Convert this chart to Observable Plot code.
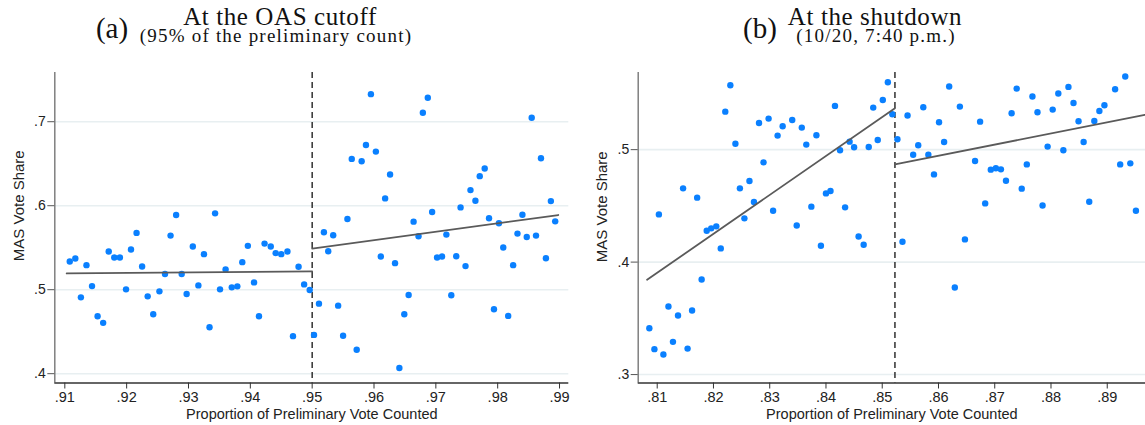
<!DOCTYPE html>
<html>
<head>
<meta charset="utf-8">
<script src="https://cdn.jsdelivr.net/npm/d3@7"></script>
<script src="https://cdn.jsdelivr.net/npm/@observablehq/plot@0.6"></script>
<style>
  html, body { margin: 0; padding: 0; background: white; }
  #root { position: relative; width: 1145px; height: 425px; overflow: hidden; background: white; }
  .panel { position: absolute; top: 60px; }
  .ttl { position: absolute; font-family: "Liberation Serif", "DejaVu Serif", serif; color: #111; white-space: nowrap; transform: translateX(-50%); line-height: 0.8; }
</style>
</head>
<body>
<div id="root"></div>
<script>
// ---------- Panel (a): At the OAS cutoff ----------
const aX = [0.9108,0.9117,0.9126,0.9135,0.9144,0.9153,0.9162,0.9171,0.9180,0.9189,0.9199,0.9207,0.9216,0.9225,0.9234,0.9243,0.9253,0.9262,0.9271,0.9280,0.9289,0.9297,0.9307,0.9316,0.9325,0.9334,0.9343,0.9351,0.9360,0.9370,0.9379,0.9387,0.9396,0.9406,0.9414,0.9423,0.9433,0.9441,0.9450,0.9460,0.9469,0.9478,0.9487,0.9496,
  0.9503,0.9511,0.9519,0.9526,0.9534,0.9542,0.9550,0.9557,0.9564,0.9572,0.9580,0.9587,0.9595,0.9603,0.9611,0.9618,0.9626,0.9634,0.9641,0.9649,0.9656,0.9664,0.9672,0.9679,0.9687,0.9694,0.9702,0.9710,0.9717,0.9725,0.9733,0.9740,0.9748,0.9756,0.9764,0.9771,0.9779,0.9786,0.9794,0.9802,0.9809,0.9817,0.9825,0.9832,0.9840,0.9847,0.9855,0.9862,0.9870,0.9878,0.9886,0.9893];
const aY = [0.5336,0.5372,0.4909,0.5292,0.5043,0.4684,0.4605,0.5455,0.5383,0.5383,0.5004,0.5478,0.5676,0.5277,0.4921,0.4708,0.4980,0.5186,0.5644,0.5889,0.5186,0.4949,0.5514,0.5051,0.5423,0.4553,0.5909,0.5004,0.5241,0.5028,0.5040,0.5328,0.5522,0.5087,0.4684,0.5549,0.5514,0.5435,0.5423,0.5455,0.4447,0.5273,0.5063,0.4996,
  0.4462,0.4834,0.5684,0.5458,0.5648,0.4810,0.4451,0.5842,0.6557,0.4285,0.6530,0.6723,0.7328,0.6644,0.5395,0.6087,0.6372,0.5316,0.4067,0.4708,0.4937,0.5810,0.5636,0.7107,0.7285,0.5925,0.5383,0.5395,0.5656,0.4933,0.5399,0.5980,0.5281,0.6186,0.6059,0.6352,0.6443,0.5850,0.4767,0.5791,0.5502,0.4688,0.5292,0.5668,0.5893,0.5628,0.7047,0.5644,0.6565,0.5375,0.6055,0.5814];
const aFitLeftX = [0.9103, 0.95];
const aFitLeftY = [0.5194, 0.5217];
const aFitRightX = [0.95, 0.9898];
const aFitRightY = [0.5490, 0.5889];
const aCutoff = 0.95;
const aXTicks = [0.91,0.92,0.93,0.94,0.95,0.96,0.97,0.98,0.99];
const aYTicks = [0.4,0.5,0.6,0.7];
const aXDomain = [0.90838, 0.9915];
const aYDomain = [0.3889, 0.7586];

// ---------- Panel (b): At the shutdown ----------
const bX = [0.8086,0.8095,0.8103,0.8111,0.8120,0.8128,0.8137,0.8146,0.8154,0.8162,0.8171,0.8179,0.8188,0.8196,0.8205,0.8213,0.8221,0.8230,0.8239,0.8247,0.8255,0.8264,0.8272,0.8281,0.8289,0.8298,0.8306,0.8314,0.8323,0.8340,0.8348,0.8357,0.8365,0.8374,0.8383,0.8391,0.8400,0.8408,0.8416,0.8425,0.8434,0.8442,0.8450,0.8458,0.8467,0.8476,0.8484,0.8492,
  0.8501,0.8510,0.8518,0.8527,0.8536,0.8545,0.8555,0.8564,0.8573,0.8582,0.8592,0.8601,0.8610,0.8619,0.8629,0.8638,0.8647,0.8665,0.8674,0.8683,0.8693,0.8702,0.8711,0.8720,0.8730,0.8739,0.8748,0.8757,0.8767,0.8776,0.8785,0.8794,0.8803,0.8813,0.8822,0.8831,0.8840,0.8849,0.8858,0.8868,0.8877,0.8886,0.8895,0.8914,0.8923,0.8932,0.8941,0.8951];
const bY = [0.3412,0.3226,0.4424,0.3178,0.3605,0.3291,0.3525,0.4656,0.3231,0.3570,0.4573,0.3846,0.4279,0.4300,0.4318,0.4122,0.5338,0.5573,0.5053,0.4656,0.4389,0.4721,0.4534,0.5237,0.4887,0.5276,0.4457,0.5125,0.5208,0.5264,0.4326,0.5196,0.5045,0.4493,0.5128,0.4145,0.4611,0.4632,0.5389,0.4994,0.4487,0.5071,0.5021,0.4228,0.4154,0.5024,0.5374,0.5086,
  0.5442,0.5599,0.5315,0.5092,0.4181,0.5303,0.4955,0.5039,0.5377,0.4955,0.4780,0.5243,0.5068,0.5561,0.3774,0.5383,0.4202,0.4899,0.5249,0.4522,0.4822,0.4834,0.4825,0.4724,0.5323,0.5543,0.4653,0.4869,0.5472,0.5332,0.4504,0.5027,0.5356,0.5499,0.4994,0.5558,0.5415,0.5252,0.5068,0.4537,0.5255,0.5344,0.5395,0.5537,0.4869,0.5650,0.4878,0.4457];
const bFitLeftX = [0.8082, 0.85226];
const bFitLeftY = [0.3843, 0.5368];
const bFitRightX = [0.85226, 0.89667];
const bFitRightY = [0.4869, 0.5309];
const bCutoff = 0.85226;
const bXTicks = [0.81,0.82,0.83,0.84,0.85,0.86,0.87,0.88,0.89];
const bYTicks = [0.3,0.4,0.5];
const bXDomain = [0.80662, 0.8968];
const bYDomain = [0.2925, 0.5686];

const xLabel = "Proportion of Preliminary Vote Counted";
const yLabel = "MAS Vote Share";

const fmt2 = d => d3.format(".2f")(d).replace(/^0/, "");
const fmt1 = d => d3.format(".1f")(d).replace(/^0/, "");
const zip = (xs, ys) => xs.map((x, i) => ({x, y: ys[i]}));

function panel({X, Y, fitLX, fitLY, fitRX, fitRY, cutoff, xTicks, yTicks, xDomain, yDomain, width, marginLeft, marginRight, yLabelDy}) {
  return Plot.plot({
    width, height: 365,
    marginLeft, marginRight, marginTop: 12, marginBottom: 42.5,
    x: {domain: xDomain},
    y: {domain: yDomain},
    style: {fontFamily: "'Liberation Sans', Arial, sans-serif", fontSize: "14px", background: "white", color: "#222", overflow: "visible"},
    marks: [
      Plot.ruleY(yTicks, {stroke: "#e8eff1", strokeWidth: 1.6}),
      Plot.ruleX([cutoff], {stroke: "#222", strokeWidth: 1.4, strokeDasharray: "6,4"}),
      Plot.dot(zip(X, Y), {x: "x", y: "y", r: 3.2, fill: "#0a80ff", stroke: null}),
      Plot.line(zip(fitLX, fitLY), {x: "x", y: "y", stroke: "#5a5a5a", strokeWidth: 1.8}),
      Plot.line(zip(fitRX, fitRY), {x: "x", y: "y", stroke: "#5a5a5a", strokeWidth: 1.8}),
      Plot.ruleX([xDomain[0]], {stroke: "#777", strokeWidth: 1.4}),
      Plot.ruleY([yDomain[0]], {stroke: "#333", strokeWidth: 1.4}),
      Plot.axisY({ticks: yTicks, tickFormat: fmt1, tickSize: 7, tickPadding: 2, stroke: "#555", label: null}),
      Plot.axisX({ticks: xTicks, tickFormat: fmt2, tickSize: 6, tickPadding: 3, stroke: "#333",
        label: xLabel, labelAnchor: "center", labelOffset: 36, labelArrow: "none", fontSize: 14.5}),
      Plot.text([yLabel], {text: d => d, frameAnchor: "left", rotate: -90, dx: -36, dy: yLabelDy,
        fontSize: 15, textAnchor: "middle", fill: "#222"})
    ]
  });
}

const root = document.getElementById("root");

const pa = panel({X: aX, Y: aY, fitLX: aFitLeftX, fitLY: aFitLeftY, fitRX: aFitRightX, fitRY: aFitRightY,
  cutoff: aCutoff, xTicks: aXTicks, yTicks: aYTicks, xDomain: aXDomain, yDomain: aYDomain,
  width: 572, marginLeft: 54.3, marginRight: 3.7, yLabelDy: -22});
pa.classList.add("panel"); pa.style.left = "0px";
root.appendChild(pa);

const pb = panel({X: bX, Y: bY, fitLX: bFitLeftX, fitLY: bFitLeftY, fitRX: bFitRightX, fitRY: bFitRightY,
  cutoff: bCutoff, xTicks: bXTicks, yTicks: bYTicks, xDomain: bXDomain, yDomain: bYDomain,
  width: 573, marginLeft: 65.7, marginRight: 0, yLabelDy: -21});
pb.classList.add("panel"); pb.style.left = "572px";
root.appendChild(pb);

// Titles
function title(text, cx, top, size, spacing) {
  const d = document.createElement("div");
  d.className = "ttl";
  d.textContent = text;
  d.style.left = cx + "px";
  d.style.top = top + "px";
  d.style.fontSize = size + "px";
  d.style.letterSpacing = spacing + "px";
  root.appendChild(d);
}
title("(a)", 112, 17, 29, 0);
title("At the OAS cutoff", 280, 6.5, 25, 0.6);
title("(95% of the preliminary count)", 276, 28.4, 19, 1.2);
title("(b)", 760, 17, 29, 0);
title("At the shutdown", 875, 6.5, 25, 0.6);
title("(10/20, 7:40 p.m.)", 876, 28.4, 19, 1.2);
</script>
</body>
</html>
